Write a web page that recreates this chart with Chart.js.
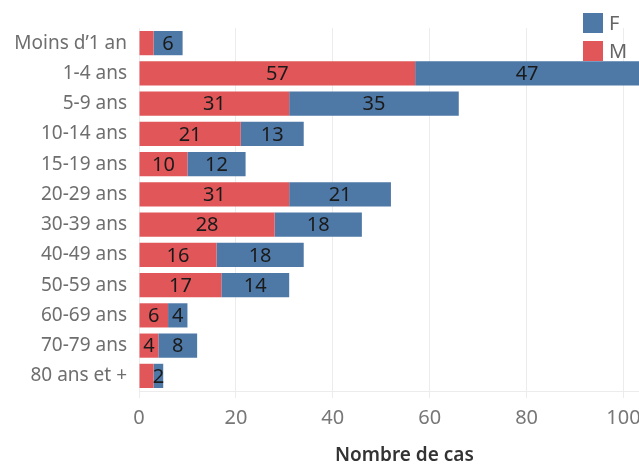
<!DOCTYPE html>
<html>
<head>
<meta charset="utf-8">
<script src="https://cdn.jsdelivr.net/npm/chart.js@4"></script>
<style>
  body { margin: 0; overflow: hidden; background: #fff; font-family: "Noto Sans", sans-serif; }
  #wrap { position: relative; width: 639px; height: 464px; }
  .leg { position: absolute; left: 583px; display: flex; align-items: center; font-size: 20px; color: #666; }
  .leg span { display: inline-block; width: 20px; height: 20px; margin-right: 6px; }
  #xtitle { position: absolute; left: 335px; top: 441px; font-size: 19px; font-weight: 600; color: #333; white-space: nowrap; }
</style>
</head>
<body>
<div id="wrap">
  <canvas id="chartAge" width="639" height="464"></canvas>
  <div class="leg" style="top:9px"><span style="background:#4e79a7"></span>F</div>
  <div class="leg" style="top:37px"><span style="background:#e15759"></span>M</div>
  <div id="xtitle">Nombre de cas</div>
</div>
<script>
let ageGroups = ["Moins d\u20191 an", "1-4 ans", "5-9 ans", "10-14 ans", "15-19 ans", "20-29 ans",
                 "30-39 ans", "40-49 ans", "50-59 ans", "60-69 ans", "70-79 ans", "80 ans et +"];
let casM = [3, 57, 31, 21, 10, 31, 28, 16, 17, 6, 4, 3];
let casF = [6, 47, 35, 13, 12, 21, 18, 18, 14, 4, 8, 2];
let xTicks = [0, 20, 40, 60, 80, 100];

// labels inside the segments, centred on the visible part
let segLabels = {
    id: 'segLabels',
    afterDatasetsDraw(chart) {
        let ctx = chart.ctx;
        let area = chart.chartArea;
        ctx.save();
        ctx.font = '20px "Noto Sans"';
        ctx.fillStyle = '#1a1a1a';
        ctx.textAlign = 'center';
        ctx.textBaseline = 'middle';
        chart.data.datasets.forEach((ds, i) => {
            chart.getDatasetMeta(i).data.forEach((bar, j) => {
                let v = ds.data[j];
                if (ds.label === 'M' && v < 4) return;
                let x0 = Math.max(bar.base, area.left);
                let x1 = Math.min(bar.x, area.right);
                ctx.fillText(v, (x0 + x1) / 2, bar.y + 1);
            });
        });
        ctx.restore();
    }
};

let ageChart = new Chart(document.getElementById("chartAge"), {
    type: 'bar',
    data: {
        labels: ageGroups,
        datasets: [
            { label: 'M', data: casM, backgroundColor: '#e15759' },
            { label: 'F', data: casF, backgroundColor: '#4e79a7' }
        ]
    },
    options: {
        indexAxis: 'y',
        responsive: false,
        animation: false,
        layout: { padding: { top: 28, right: 0, left: 0, bottom: 0 } },
        datasets: { bar: { barPercentage: 0.8, categoryPercentage: 1 } },
        plugins: { legend: { display: false }, tooltip: { enabled: false } },
        scales: {
            x: {
                stacked: true,
                min: 0,
                max: 103.2,
                afterBuildTicks: s => { s.ticks = xTicks.map(v => ({ value: v })); },
                afterFit: s => { s.height = 73; s.paddingLeft = 0; s.paddingRight = 0; },
                grid: { color: '#ececec', tickLength: 7, tickColor: '#ececec' },
                border: { display: true, color: '#ececec' },
                ticks: { color: '#777', font: { size: 20, family: 'Noto Sans' }, padding: 8, maxRotation: 0 }
            },
            y: {
                stacked: true,
                afterFit: s => { s.width = 139; s.paddingTop = 0; s.paddingBottom = 0; },
                grid: { display: false },
                border: { display: false },
                ticks: { color: '#6e6e6e', font: { size: 19, family: 'Noto Sans' }, padding: 4 }
            }
        }
    },
    plugins: [segLabels]
});
</script>
</body>
</html>
